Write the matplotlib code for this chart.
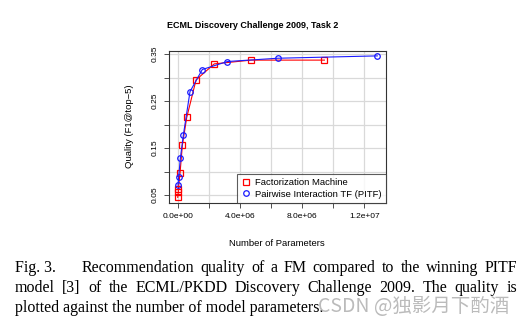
import matplotlib
matplotlib.use("Agg")
import matplotlib.pyplot as plt
from matplotlib.lines import Line2D
import numpy as np

# Data
fm_params = [0.0, 4.0e4, 4.0e4, 1.5e5, 3.0e5, 5.8e5, 1.18e6, 2.35e6, 4.71e6, 9.43e6]
fm_quality = [0.045, 0.057, 0.062, 0.097, 0.156, 0.215, 0.295, 0.329, 0.337, 0.337]
pitf_params = [2.0e4, 6.0e4, 1.7e5, 3.6e5, 7.9e5, 1.58e6, 3.19e6, 6.43e6, 1.283e7]
pitf_quality = [0.071, 0.088, 0.128, 0.177, 0.270, 0.317, 0.334, 0.341, 0.346]

x_ticks = [0, 2e6, 4e6, 6e6, 8e6, 1.0e7, 1.2e7]
x_ticklabels = ["0.0e+00", "", "4.0e+06", "", "8.0e+06", "", "1.2e+07"]
y_ticks = [0.05, 0.10, 0.15, 0.20, 0.25, 0.30, 0.35]
y_ticklabels = ["0.05", "", "0.15", "", "0.25", "", "0.35"]

title = "ECML Discovery Challenge 2009, Task 2"
xlabel = "Number of Parameters"
ylabel = "Quality (F1@top\u22125)"
legend_labels = ["Factorization Machine", "Pairwise Interaction TF (PITF)"]

caption_lines = [
    "Fig. 3. Recommendation quality of a FM compared to the winning PITF",
    "model [3] of the ECML/PKDD Discovery Challenge 2009. The quality is",
    "plotted against the number of model parameters.",
]
watermark = "CSDN @独影月下酌酒"

W, H = 528, 325
fig = plt.figure(figsize=(W / 100, H / 100), dpi=100)
fig.patch.set_facecolor("white")

left, right, bottom, top = 169, 386, 203, 51
ax = fig.add_axes([left / W, 1 - bottom / H, (right - left) / W, (bottom - top) / H])

sans = ["Liberation Sans", "DejaVu Sans"]
RED = "#ff0000"
BLUE = "#1a1aff"

ax.grid(True, color="#d9d9d9", linewidth=0.9)
ax.set_axisbelow(True)

ax.plot(fm_params, fm_quality, color=RED, lw=0.8, marker="s", ms=4,
        mfc="none", mec=RED, mew=0.9)
ax.plot(pitf_params, pitf_quality, color=BLUE, lw=0.8, marker="o", ms=4,
        mfc="none", mec=BLUE, mew=0.9)

ax.set_xlim(-5.6e5, 1.339e7)
ax.set_ylim(0.033, 0.3564)
ax.set_xticks(x_ticks)
ax.set_xticklabels(x_ticklabels, fontsize=6.0, family=sans)
ax.set_yticks(y_ticks)
ax.set_yticklabels(y_ticklabels, fontsize=6.0, family=sans, rotation=90, va="center")
ax.tick_params(direction="out", length=3.5, width=0.6, color="#333333", pad=4)
for s in ax.spines.values():
    s.set_color("#333333")
    s.set_linewidth(0.8)

handles = [
    Line2D([], [], ls="none", marker="s", ms=4, mfc="none", mec=RED, mew=0.9),
    Line2D([], [], ls="none", marker="o", ms=4, mfc="none", mec=BLUE, mew=0.9),
]
leg = ax.legend(handles, legend_labels, loc="lower right",
                prop={"family": sans, "size": 6.8},
                frameon=True, fancybox=False, borderaxespad=0.0,
                handlelength=1.0, handletextpad=0.5, borderpad=0.45,
                labelspacing=0.3)
leg.get_frame().set_edgecolor("#333333")
leg.get_frame().set_linewidth(0.8)

fig.text(252.5 / W, 1 - 25 / H, title, ha="center", va="center",
         fontsize=6.5, fontweight="bold", family=sans)
fig.text(276.5 / W, 1 - 243 / H, xlabel, ha="center", va="center",
         fontsize=6.8, family=sans)
fig.text(129 / W, 1 - 126 / H, ylabel, ha="center", va="center",
         fontsize=6.8, family=sans, rotation=90)

# Caption (justified)
serif = ["Liberation Serif", "DejaVu Serif"]
cap_size = 11.5
renderer = fig.canvas.get_renderer()


def width_of(s):
    t = fig.text(0, 0, s, fontsize=cap_size, family=serif)
    w = t.get_window_extent(renderer).width
    t.remove()
    return w


baselines = [272, 292, 312]
x0, x1 = 15, 517
# line 1: "Fig. 3." then justified rest
words1 = caption_lines[0].split(" ")
fig.text(x0 / W, 1 - baselines[0] / H, " ".join(words1[:2]), fontsize=cap_size,
         family=serif, va="baseline", ha="left")
rest = words1[2:]
start = 81.7
ws = [width_of(w) for w in rest]
gap = (x1 - start - sum(ws)) / (len(rest) - 1)
x = start
for w, wd in zip(rest, ws):
    fig.text(x / W, 1 - baselines[0] / H, w, fontsize=cap_size, family=serif,
             va="baseline", ha="left")
    x += wd + gap
# line 2 justified
words2 = caption_lines[1].split(" ")
ws = [width_of(w) for w in words2]
gap = (x1 - x0 - sum(ws)) / (len(words2) - 1)
x = x0
for w, wd in zip(words2, ws):
    fig.text(x / W, 1 - baselines[1] / H, w, fontsize=cap_size, family=serif,
             va="baseline", ha="left")
    x += wd + gap
# line 3 left
fig.text(x0 / W, 1 - baselines[2] / H, caption_lines[2], fontsize=cap_size,
         family=serif, va="baseline", ha="left")

# watermark
fig.text(318 / W, 1 - 306 / H, watermark, fontsize=14, color="#b4b4b4",
         family=["Noto Sans CJK SC", "DejaVu Sans"], va="center", ha="left",
         alpha=0.9)

fig.savefig("out.png", dpi=100)
